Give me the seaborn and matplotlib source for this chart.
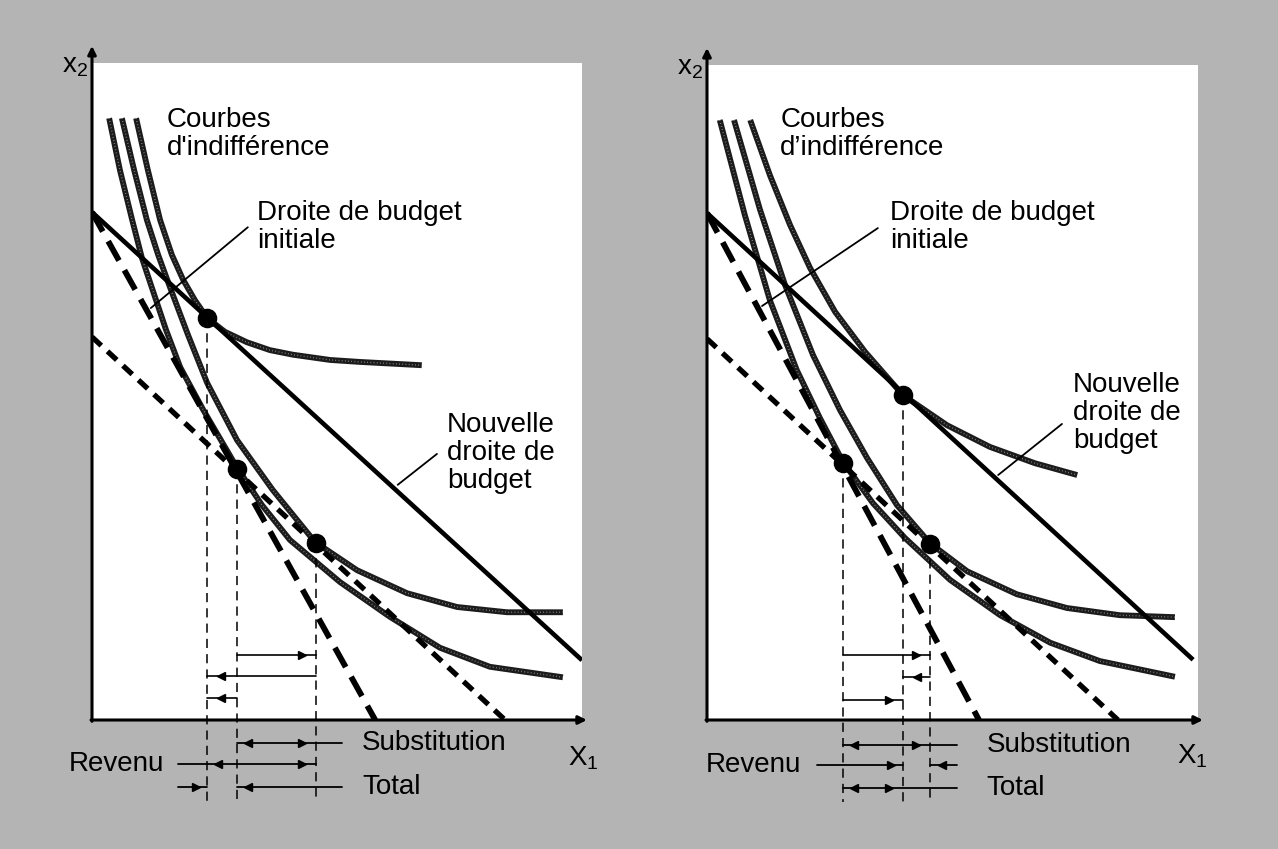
import matplotlib
matplotlib.use("Agg")
import matplotlib.pyplot as plt
import seaborn as sns

sns.set_style("white")
plt.rcParams['font.family'] = ['Liberation Sans', 'DejaVu Sans']
plt.rcParams['text.color'] = 'black'

# ---------------- data (x1, x2 in arbitrary units 0-10) ----------------
# left panel : bien de Giffen
L_top_x = [0.90, 1.14, 1.39, 1.63, 1.86, 2.10, 2.35, 2.71, 3.16, 3.63, 4.10, 4.86, 5.47, 6.73]
L_top_y = [9.16, 8.37, 7.61, 7.08, 6.70, 6.39, 6.12, 5.91, 5.75, 5.63, 5.56, 5.48, 5.45, 5.40]
L_mid_x = [0.61, 0.86, 1.12, 1.35, 1.59, 1.96, 2.35, 2.96, 3.69, 4.55, 5.41, 6.43, 7.45, 8.47, 9.61]
L_mid_y = [9.16, 8.37, 7.61, 7.08, 6.59, 5.86, 5.13, 4.26, 3.50, 2.71, 2.28, 1.93, 1.72, 1.64, 1.64]
L_bot_x = [0.35, 0.57, 0.82, 1.02, 1.24, 1.51, 1.80, 2.27, 2.96, 3.47, 4.04, 5.06, 6.08, 7.10, 8.12, 9.61]
L_bot_y = [9.16, 8.37, 7.61, 7.03, 6.54, 5.94, 5.37, 4.72, 3.84, 3.27, 2.74, 2.10, 1.57, 1.10, 0.81, 0.65]
L_new_x, L_new_y = [0, 10.0], [7.73, 0.91]      # nouvelle droite de budget
L_init_x, L_init_y = [0, 5.78], [7.73, 0]       # droite de budget initiale
L_comp_x, L_comp_y = [0, 8.43], [5.83, 0]       # droite compensee
L_pts_x = [2.35, 2.96, 4.57]                    # final, initial, substitution
L_pts_y = [6.12, 3.82, 2.69]

# right panel : bien inferieur
R_top_x = [0.88, 1.28, 1.69, 2.10, 2.61, 3.22, 3.99, 4.89, 5.76, 6.68, 7.54]
R_top_y = [9.16, 8.32, 7.56, 6.90, 6.23, 5.62, 4.96, 4.50, 4.17, 3.92, 3.74]
R_mid_x = [0.55, 1.08, 1.59, 2.16, 2.71, 3.26, 3.87, 4.54, 5.30, 6.31, 7.33, 8.41, 9.53]
R_mid_y = [9.16, 7.79, 6.64, 5.57, 4.73, 4.00, 3.28, 2.70, 2.27, 1.92, 1.71, 1.60, 1.57]
R_bot_x = [0.26, 0.77, 1.28, 1.83, 2.30, 2.77, 3.38, 4.03, 4.95, 5.97, 6.99, 8.00, 9.53]
R_bot_y = [9.16, 7.71, 6.41, 5.34, 4.61, 3.94, 3.31, 2.78, 2.14, 1.60, 1.18, 0.90, 0.66]
R_new_x, R_new_y = [0, 9.90], [7.74, 0.92]
R_init_x, R_init_y = [0, 5.54], [7.74, 0]
R_comp_x, R_comp_y = [0, 8.37], [5.82, 0]
R_pts_x = [3.99, 2.77, 4.54]
R_pts_y = [4.96, 3.92, 2.68]

lbl_courbes_L = "Courbes\nd'indifférence"
lbl_courbes_R = "Courbes\nd\u2019indifférence"
lbl_init = "Droite de budget\ninitiale"
lbl_new = "Nouvelle\ndroite de\nbudget"

BG = '#b4b4b4'
FS = 20

fig = plt.figure(figsize=(12.78, 8.49), dpi=100, facecolor=BG)
axL = fig.add_axes([92 / 1278, 129 / 849, 490 / 1278, 657 / 849])
axR = fig.add_axes([707 / 1278, 129 / 849, 491 / 1278, 655 / 849])


def draw_curve(ax, xs, ys):
    sns.lineplot(x=xs, y=ys, ax=ax, color='#1c1c1c', lw=4.2, sort=False,
                 estimator=None, solid_capstyle='butt', solid_joinstyle='round')
    ax.plot(xs, ys, color='#9a9a9a', lw=1.0, linestyle=(0, (0.5, 1.8)))


def effect(ax, y, x0, x1):
    d = 1 if x1 > x0 else -1
    ax.plot([x0, x1], [y, y], color='black', lw=1.2, clip_on=False)
    ax.plot([x1 - d * 0.28], [y], marker='>' if d > 0 else '<', ms=6,
            color='black', clip_on=False)


def head(ax, x, y, d):
    ax.plot([x], [y], marker='>' if d > 0 else '<', ms=6, color='black', clip_on=False)


def base_panel(ax, curves, new, init, comp, px, py):
    ax.set_xlim(0, 10)
    ax.set_ylim(0, 10)
    ax.set_facecolor('white')
    for sp in ax.spines.values():
        sp.set_visible(False)
    ax.set_xticks([])
    ax.set_yticks([])
    ax.set_xlabel('')
    ax.set_ylabel('')
    for xs, ys in curves:
        draw_curve(ax, xs, ys)
    ax.plot(new[0], new[1], color='black', lw=3.3, solid_capstyle='butt')
    ax.plot(init[0], init[1], color='black', lw=4.2, dashes=(3.8, 1.9))
    ax.plot(comp[0], comp[1], color='black', lw=3.8, dashes=(2.4, 1.6))
    for x, y in zip(px, py):
        ax.plot([x, x], [y, -1.25], color='black', lw=1.1, dashes=(6, 4), clip_on=False)
    sns.scatterplot(x=px, y=py, ax=ax, s=170, color='black', edgecolor='black',
                    zorder=6, legend=False)
    ax.annotate('', xy=(0, 10.26), xytext=(0, -0.02), annotation_clip=False,
                arrowprops=dict(arrowstyle='-|>', lw=2.2, color='black', mutation_scale=12,
                                shrinkA=0, shrinkB=0))
    ax.annotate('', xy=(10.1, 0), xytext=(-0.02, 0), annotation_clip=False,
                arrowprops=dict(arrowstyle='-|>', lw=2.2, color='black', mutation_scale=12,
                                shrinkA=0, shrinkB=0))
    ax.text(-0.35, 9.95, r'$\mathregular{x_2}$', fontsize=FS, ha='center', va='center',
            clip_on=False)


# ---------------- left panel ----------------
axL.set_zorder(1)
base_panel(axL, [(L_top_x, L_top_y), (L_mid_x, L_mid_y), (L_bot_x, L_bot_y)],
           (L_new_x, L_new_y), (L_init_x, L_init_y), (L_comp_x, L_comp_y), L_pts_x, L_pts_y)
a, b, c = L_pts_x
effect(axL, 0.99, b, c)
effect(axL, 0.67, c, a)
effect(axL, 0.33, b, a)
axL.text(1.53, 8.92, lbl_courbes_L, fontsize=FS, va='center', linespacing=1.1)
axL.text(3.37, 7.50, lbl_init, fontsize=FS, va='center', linespacing=1.1)
axL.text(7.24, 4.06, lbl_new, fontsize=FS, va='center', linespacing=1.1)
axL.plot([3.18, 1.20], [7.50, 6.27], color='black', lw=1.3)
axL.plot([7.04, 6.24], [4.05, 3.58], color='black', lw=1.3)
# decomposition below the axis
axL.plot([b, 5.10], [-0.35, -0.35], color='black', lw=1.3, clip_on=False)
head(axL, b + 0.22, -0.35, -1)
head(axL, c - 0.28, -0.35, 1)
axL.plot([1.76, c], [-0.67, -0.67], color='black', lw=1.3, clip_on=False)
head(axL, a + 0.22, -0.67, -1)
head(axL, c - 0.28, -0.67, 1)
axL.plot([1.76, a], [-1.02, -1.02], color='black', lw=1.3, clip_on=False)
axL.plot([b, 5.10], [-1.02, -1.02], color='black', lw=1.3, clip_on=False)
head(axL, a - 0.22, -1.02, 1)
head(axL, b + 0.22, -1.02, -1)
axL.text(5.51, -0.35, 'Substitution', fontsize=FS, va='center', clip_on=False)
axL.text(1.47, -0.67, 'Revenu', fontsize=FS, va='center', ha='right', clip_on=False)
axL.text(5.51, -1.02, 'Total', fontsize=FS, va='center', clip_on=False)
axL.text(10.02, -0.58, r'$\mathregular{X_1}$', fontsize=FS, ha='center', va='center',
         clip_on=False)

# ---------------- right panel ----------------
base_panel(axR, [(R_top_x, R_top_y), (R_mid_x, R_mid_y), (R_bot_x, R_bot_y)],
           (R_new_x, R_new_y), (R_init_x, R_init_y), (R_comp_x, R_comp_y), R_pts_x, R_pts_y)
a, b, c = R_pts_x
effect(axR, 0.99, b, c)
effect(axR, 0.66, c, a)
effect(axR, 0.31, b, a)
axR.text(1.49, 8.95, lbl_courbes_R, fontsize=FS, va='center', linespacing=1.1)
axR.text(3.73, 7.53, lbl_init, fontsize=FS, va='center', linespacing=1.1)
axR.text(7.45, 4.69, lbl_new, fontsize=FS, va='center', linespacing=1.1)
axR.plot([3.48, 1.12], [7.51, 6.32], color='black', lw=1.3)
axR.plot([7.23, 5.93], [4.52, 3.74], color='black', lw=1.3)
axR.plot([b, 5.09], [-0.38, -0.38], color='black', lw=1.3, clip_on=False)
head(axR, b + 0.22, -0.38, -1)
head(axR, c - 0.28, -0.38, 1)
axR.plot([2.24, a], [-0.69, -0.69], color='black', lw=1.3, clip_on=False)
axR.plot([c, 5.09], [-0.69, -0.69], color='black', lw=1.3, clip_on=False)
head(axR, a - 0.25, -0.69, 1)
head(axR, c + 0.25, -0.69, -1)
axR.plot([b, 5.09], [-1.04, -1.04], color='black', lw=1.3, clip_on=False)
head(axR, b + 0.22, -1.04, -1)
head(axR, a - 0.28, -1.04, 1)
axR.text(5.70, -0.38, 'Substitution', fontsize=FS, va='center', clip_on=False)
axR.text(1.91, -0.69, 'Revenu', fontsize=FS, va='center', ha='right', clip_on=False)
axR.text(5.70, -1.04, 'Total', fontsize=FS, va='center', clip_on=False)
axR.text(9.88, -0.56, r'$\mathregular{X_1}$', fontsize=FS, ha='center', va='center',
         clip_on=False)

fig.savefig('out.png', dpi=100, facecolor=BG)
